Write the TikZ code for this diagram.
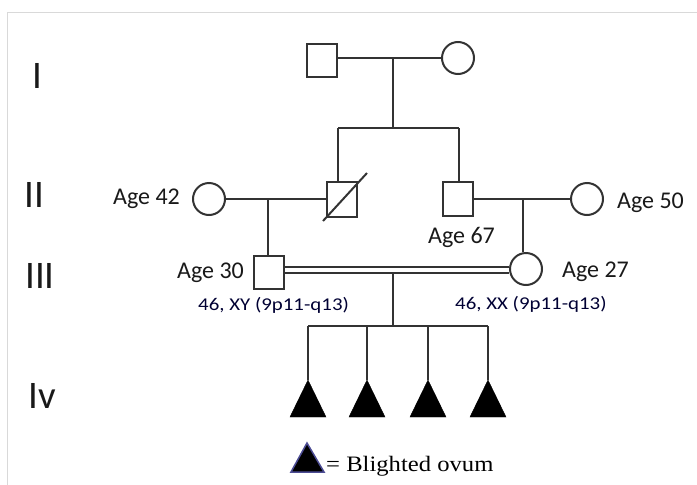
\documentclass[tikz,border=0pt]{standalone}
\usepackage{fontspec}
\setmainfont{Carlito}
\newfontfamily\serifleg{Liberation Serif}
\begin{document}
\begin{tikzpicture}[x=1pt,y=-1pt,
  ln/.style={draw=black!80,line width=2pt},
  male/.style={ln,rectangle,minimum width=30pt,minimum height=33pt,inner sep=0},
  female/.style={ln,circle,minimum size=32pt,inner sep=0},
  tri/.style={fill=black},
  lab/.style={inner sep=0,anchor=base west,font=\fontsize{24}{24}\selectfont,text=black!90},
  kary/.style={inner sep=0,anchor=base west,font=\fontsize{18}{18}\selectfont,text=black!80!blue},
  gen/.style={inner sep=0,anchor=base west,font=\fontsize{39}{39}\selectfont,text=black!90}]
\useasboundingbox (0,0) rectangle (697,485);
\draw[black!15,line width=1pt] (7,485) -- (7,12) -- (697,12);
% generation labels
\node[gen] (gI) at (32,88) {I};
\node[gen] (gII) at (24,207) {II};
\node[gen] (gIII) at (25,288) {III};
\node[gen] (gIV) at (28,408) {Iv};
% generation I
\node[male] (I1) at (322,60) {};
\node[female] (I2) at (458,58) {};
\draw[ln] (I1.east |- I2.west) -- (I2.west);
\coordinate (dI) at (393,58);
\coordinate (sL) at (338,128);
\coordinate (sR) at (459,128);
\draw[ln] (dI) -- (dI |- sL);
\draw[ln] (sL) -- (sR);
% generation II
\node[female] (II1) at (209,199) {};
\node[male,minimum height=35pt] (II2) at (342,199) {};
\draw[ln] (323,221) -- (367,173);
\node[male,minimum height=34pt] (II3) at (458,199) {};
\node[female] (II4) at (587,199) {};
\draw[ln] (sL) -- (sL |- II2.north);
\draw[ln] (sR) -- (sR |- II3.north);
\draw[ln] (II1.east) -- (II2.west);
\draw[ln] (II3.east) -- (II4.west);
% generation III
\node[male] (III1) at (269,272) {};
\node[female] (III2) at (526,269) {};
\coordinate (dL) at (268,199);
\coordinate (dR) at (523,199);
\draw[ln] (dL) -- (dL |- III1.north);
\draw[ln] (dR) -- (dR |- III2.north);
\draw[ln] (III1.east |- 0,267) -- (III2.west |- 0,267);
\draw[ln] (III1.east |- 0,273) -- (III2.west |- 0,273);
\coordinate (dIII) at (393,273);
\coordinate (sIV) at (393,326);
\draw[ln] (dIII) -- (sIV);
% generation IV
\foreach \i/\x in {1/308,2/367,3/428,4/488}{
  \coordinate (t\i) at (\x,380);
  \draw[tri] (t\i) -- (\x-18,417) -- (\x+18,417) -- cycle;
}
\draw[ln] (t1 |- sIV) -- (t4 |- sIV);
\foreach \i in {1,2,3,4}{ \draw[ln] (t\i |- sIV) -- (t\i); }
% labels
\node[lab] (a42) at (113,204) {Age 42};
\node[lab] (a30) at (177,278) {Age 30};
\node[lab] (a67) at (428,243) {Age 67};
\node[lab] (a50) at (617,208) {Age 50};
\node[lab] (a27) at (562,277) {Age 27};
\node[kary] (kL) at (198,310) {\scalebox{1.16}[1]{46, XY (9p11-q13)}};
\node[kary] (kR) at (455,309) {\scalebox{1.16}[1]{46, XX (9p11-q13)}};
% legend
\draw[fill=black,draw=blue!40!black!70,line width=1.5pt] (307,443) -- (291,472) -- (324,472) -- cycle;
\node[inner sep=0,anchor=base west,font=\serifleg\fontsize{22}{22}\selectfont] (leg) at (326,471) {\scalebox{1.12}[1]{= Blighted ovum}};
\end{tikzpicture}
\end{document}
